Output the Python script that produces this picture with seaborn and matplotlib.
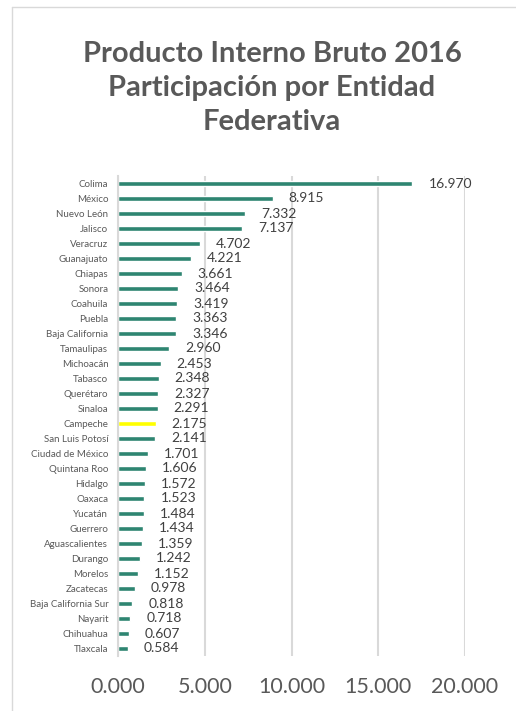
import matplotlib
matplotlib.use("Agg")
import matplotlib.pyplot as plt
import seaborn as sns
import pandas as pd
from matplotlib.lines import Line2D

estados = ["Colima", "México", "Nuevo León", "Jalisco", "Veracruz", "Guanajuato",
           "Chiapas", "Sonora", "Coahuila", "Puebla", "Baja California", "Tamaulipas",
           "Michoacán", "Tabasco", "Querétaro", "Sinaloa", "Campeche", "San Luis Potosí",
           "Ciudad de México", "Quintana Roo", "Hidalgo", "Oaxaca", "Yucatán", "Guerrero",
           "Aguascalientes", "Durango", "Morelos", "Zacatecas", "Baja California Sur",
           "Nayarit", "Chihuahua", "Tlaxcala"]
valores = [16.970, 8.915, 7.332, 7.137, 4.702, 4.221, 3.661, 3.464, 3.419, 3.363,
           3.346, 2.960, 2.453, 2.348, 2.327, 2.291, 2.175, 2.141, 1.701, 1.606,
           1.572, 1.523, 1.484, 1.434, 1.359, 1.242, 1.152, 0.978, 0.818, 0.718,
           0.607, 0.584]
destacado = "Campeche"
x_ticks = [0, 5, 10, 15, 20]

df = pd.DataFrame({"estado": estados, "valor": valores})
teal = "#2E8571"
palette = {e: ("#FFFF00" if e == destacado else teal) for e in estados}

sns.set_theme(style="white")
plt.rcParams["font.family"] = ["Lato", "DejaVu Sans"]

W, H = 516, 711
fig = plt.figure(figsize=(W / 100, H / 100), dpi=100)
ax = fig.add_axes([118 / W, 1 - 656 / H, (465 - 118) / W, (656 - 176) / H])

sns.barplot(data=df, x="valor", y="estado", hue="estado", palette=palette,
            orient="h", width=0.38, legend=False, ax=ax, saturation=1)

ax.set_xlim(0, 20)
ax.set_xticks(x_ticks)
ax.set_xticklabels([f"{t:.3f}" for t in x_ticks])
ax.set_xlabel("")
ax.set_ylabel("")
ax.grid(axis="x", color="#D9D9D9", linewidth=1.5)
ax.grid(axis="y", visible=False)
ax.set_axisbelow(True)
for s in ["top", "right", "bottom"]:
    ax.spines[s].set_visible(False)
ax.spines["left"].set_color("#D9D9D9")
ax.spines["left"].set_linewidth(1.5)
ax.tick_params(axis="x", length=0, pad=15, labelsize=15.5, labelcolor="#595959")
ax.tick_params(axis="y", length=0, pad=7, labelsize=7, labelcolor="#595959")

for i, v in enumerate(valores):
    ax.annotate(f"{v:.3f}", xy=(v, i), xytext=(11.5, 0), textcoords="offset points",
                ha="left", va="center", fontsize=10, color="#404040")

fig.text(272 / W, 1 - 88 / H,
         "Producto Interno Bruto 2016\nParticipación por Entidad\nFederativa",
         ha="center", va="center", fontsize=21, fontweight="bold", color="#595959",
         linespacing=1.4)

fig.add_artist(Line2D([12 / W, 12 / W], [0, 1 - 7 / H], transform=fig.transFigure,
                      color="#D9D9D9", linewidth=1))
fig.add_artist(Line2D([12 / W, 1], [1 - 7 / H, 1 - 7 / H], transform=fig.transFigure,
                      color="#D9D9D9", linewidth=1))

fig.savefig("out.png", dpi=100)
